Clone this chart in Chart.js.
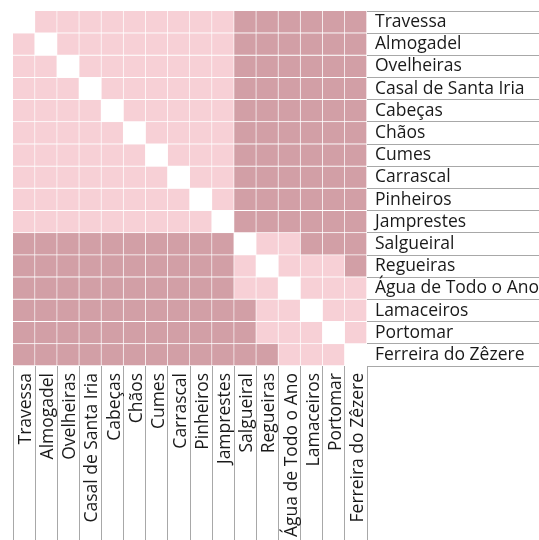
<!DOCTYPE html>
<html>
<head>
<meta charset="utf-8">
<script src="https://cdn.jsdelivr.net/npm/chart.js@4/dist/chart.umd.min.js"></script>
<style>
  html, body { margin: 0; padding: 0; background: #fff; }
  #wrap { width: 539px; height: 540px; }
</style>
</head>
<body>
<div id="wrap"><canvas id="matrixChart"></canvas></div>
<script>
const places = ['Travessa', 'Almogadel', 'Ovelheiras', 'Casal de Santa Iria', 'Cabeças', 'Chãos',
  'Cumes', 'Carrascal', 'Pinheiros', 'Jamprestes', 'Salgueiral', 'Regueiras',
  'Água de Todo o Ano', 'Lamaceiros', 'Portomar', 'Ferreira do Zêzere'];

// 0 = same place, 1 = close (light), 2 = far (dark)
const levels = [
  [0, 1, 1, 1, 1, 1, 1, 1, 1, 1, 2, 2, 2, 2, 2, 2],
  [1, 0, 1, 1, 1, 1, 1, 1, 1, 1, 2, 2, 2, 2, 2, 2],
  [1, 1, 0, 1, 1, 1, 1, 1, 1, 1, 2, 2, 2, 2, 2, 2],
  [1, 1, 1, 0, 1, 1, 1, 1, 1, 1, 2, 2, 2, 2, 2, 2],
  [1, 1, 1, 1, 0, 1, 1, 1, 1, 1, 2, 2, 2, 2, 2, 2],
  [1, 1, 1, 1, 1, 0, 1, 1, 1, 1, 2, 2, 2, 2, 2, 2],
  [1, 1, 1, 1, 1, 1, 0, 1, 1, 1, 2, 2, 2, 2, 2, 2],
  [1, 1, 1, 1, 1, 1, 1, 0, 1, 1, 2, 2, 2, 2, 2, 2],
  [1, 1, 1, 1, 1, 1, 1, 1, 0, 1, 2, 2, 2, 2, 2, 2],
  [1, 1, 1, 1, 1, 1, 1, 1, 1, 0, 2, 2, 2, 2, 2, 2],
  [2, 2, 2, 2, 2, 2, 2, 2, 2, 2, 0, 1, 1, 2, 2, 2],
  [2, 2, 2, 2, 2, 2, 2, 2, 2, 2, 1, 0, 1, 1, 1, 2],
  [2, 2, 2, 2, 2, 2, 2, 2, 2, 2, 1, 1, 0, 1, 1, 1],
  [2, 2, 2, 2, 2, 2, 2, 2, 2, 2, 2, 1, 1, 0, 1, 1],
  [2, 2, 2, 2, 2, 2, 2, 2, 2, 2, 2, 1, 1, 1, 0, 1],
  [2, 2, 2, 2, 2, 2, 2, 2, 2, 2, 2, 2, 1, 1, 1, 0]
];

const levelColors = ['#ffffff', '#f7d0d6', '#d29fa6'];
const lineColor = '#a8a8a8';
const font = { family: '"Open Sans", sans-serif', size: 17.5 };

// one dataset per row, floating bars from row to row+1
const datasets = levels.map((row, r) => ({
  label: places[r],
  data: row.map(() => [r, r + 1]),
  backgroundColor: row.map(v => levelColors[v]),
  borderColor: '#ffffff',
  borderWidth: { top: 0, left: 0, right: 1, bottom: 1 },
  borderSkipped: false,
  grouped: false,
  barPercentage: 1,
  categoryPercentage: 1
}));

new Chart(document.getElementById('matrixChart'), {
  type: 'bar',
  data: { labels: places, datasets },
  options: {
    responsive: true,
    maintainAspectRatio: false,
    animation: false,
    layout: { padding: { left: 13, top: 11, right: 0, bottom: 0 } },
    plugins: { legend: { display: false }, tooltip: { enabled: false } },
    scales: {
      x: {
        position: 'bottom',
        offset: true,
        border: { display: false },
        grid: { offset: true, drawOnChartArea: false, tickLength: 174, color: lineColor },
        ticks: { font, color: '#1a1a1a', minRotation: 90, maxRotation: 90, autoSkip: false, padding: -167, labelOffset: 2 },
        afterFit: s => { s.height = 174; }
      },
      y: {
        display: false,
        min: 0,
        max: 16,
        reverse: true
      },
      rows: {
        type: 'category',
        labels: places,
        position: 'right',
        offset: true,
        border: { display: false },
        grid: { offset: true, drawOnChartArea: false, tickLength: 172, color: lineColor },
        ticks: { font, color: '#1a1a1a', autoSkip: false, crossAlign: 'near', padding: -164 },
        afterFit: s => { s.width = 172; }
      }
    }
  }
});
</script>
</body>
</html>
